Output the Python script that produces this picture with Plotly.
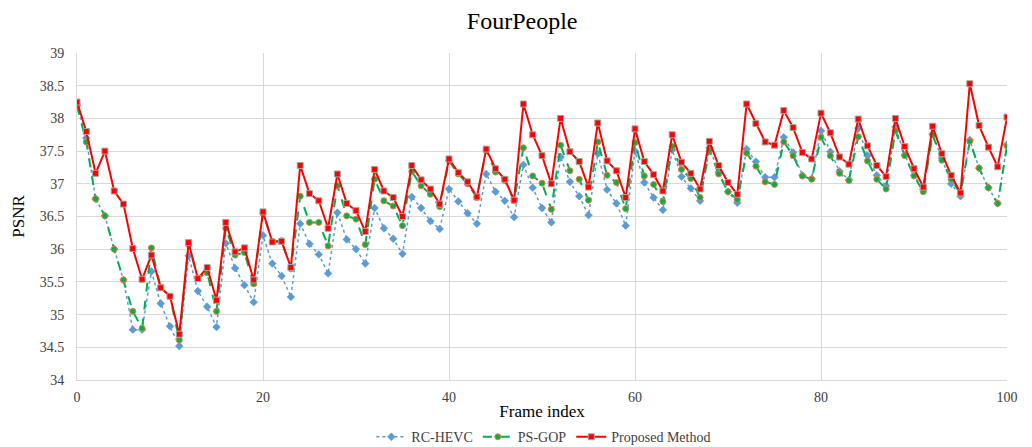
import plotly.graph_objects as go

frames = list(range(101))

rc_hevc = [38.20, 37.70, 36.77, 36.51, 36.00, 35.53, 34.77, 34.77, 35.66, 35.17,
           34.82, 34.52, 35.90, 35.36, 35.12, 34.81, 36.09, 35.71, 35.45, 35.19,
           36.21, 35.78, 35.59, 35.27, 36.39, 36.08, 35.92, 35.63, 36.56, 36.15,
           36.00, 35.78, 36.63, 36.32, 36.16, 35.93, 36.80, 36.63, 36.43, 36.31,
           36.92, 36.73, 36.55, 36.39, 37.15, 36.88, 36.74, 36.49, 37.29, 36.94,
           36.63, 36.41, 37.41, 37.03, 36.81, 36.52, 37.46, 36.91, 36.70, 36.36,
           37.50, 37.02, 36.79, 36.60, 37.52, 37.11, 36.93, 36.74, 37.55, 37.18,
           36.88, 36.71, 37.53, 37.34, 37.10, 37.10, 37.71, 37.48, 37.13, 37.08,
           37.81, 37.49, 37.19, 37.06, 37.85, 37.43, 37.13, 36.97, 37.87, 37.44,
           37.13, 36.91, 37.76, 37.39, 37.00, 36.81, 37.67, 37.24, 36.94, 36.70,
           37.60]

ps_gop = [38.19, 37.64, 36.77, 36.51, 36.00, 35.53, 35.05, 34.79, 36.02, 35.42,
          35.28, 34.61, 36.07, 35.56, 35.64, 35.05, 36.32, 35.91, 35.95, 35.47,
          36.55, 36.12, 36.13, 35.70, 36.81, 36.41, 36.41, 36.05, 36.97, 36.51,
          36.46, 36.07, 37.07, 36.74, 36.66, 36.36, 37.19, 36.97, 36.84, 36.65,
          37.35, 37.15, 37.00, 36.79, 37.52, 37.18, 37.05, 36.74, 37.55, 37.12,
          37.01, 36.61, 37.59, 37.20, 37.07, 36.75, 37.64, 37.13, 37.02, 36.62,
          37.63, 37.12, 36.99, 36.73, 37.57, 37.22, 37.08, 36.79, 37.51, 37.15,
          36.88, 36.76, 37.47, 37.27, 37.03, 36.99, 37.64, 37.43, 37.12, 37.07,
          37.71, 37.43, 37.16, 37.05, 37.72, 37.35, 37.07, 36.92, 37.81, 37.43,
          37.12, 36.88, 37.75, 37.36, 37.07, 36.85, 37.65, 37.24, 36.94, 36.70,
          37.58]

proposed = [38.25, 37.80, 37.16, 37.50, 36.89, 36.69, 36.01, 35.54, 35.91, 35.41,
            35.28, 34.70, 36.10, 35.55, 35.72, 35.22, 36.41, 35.96, 36.02, 35.53,
            36.57, 36.11, 36.12, 35.72, 37.28, 36.85, 36.74, 36.32, 37.15, 36.70,
            36.59, 36.27, 37.22, 36.89, 36.79, 36.50, 37.28, 37.06, 36.92, 36.69,
            37.38, 37.17, 37.03, 36.80, 37.53, 37.23, 37.07, 36.75, 38.22, 37.75,
            37.43, 37.00, 38.00, 37.49, 37.34, 36.95, 37.93, 37.35, 37.20, 36.79,
            37.84, 37.34, 37.14, 36.89, 37.75, 37.33, 37.16, 36.92, 37.65, 37.28,
            37.02, 36.84, 38.22, 37.92, 37.64, 37.59, 38.12, 37.86, 37.48, 37.38,
            38.08, 37.78, 37.41, 37.30, 37.99, 37.58, 37.28, 37.11, 38.00, 37.57,
            37.23, 36.95, 37.88, 37.46, 37.13, 36.86, 38.53, 37.89, 37.56, 37.26,
            38.02]

serif = "Liberation Serif, Times New Roman, serif"

fig = go.Figure()
fig.add_trace(go.Scatter(
    x=frames, y=rc_hevc, name="RC-HEVC", mode="lines+markers",
    line=dict(color="#5B9BD5", width=1.5, dash="dot"),
    marker=dict(symbol="diamond", size=6, color="#5B9BD5",
                line=dict(color="#5B9BD5", width=0.5))))
fig.add_trace(go.Scatter(
    x=frames, y=ps_gop, name="PS-GOP", mode="lines+markers",
    line=dict(color="#00B050", width=2, dash="dash"),
    marker=dict(symbol="circle", size=6, color="#00B050",
                line=dict(color="#ED7D31", width=1))))
fig.add_trace(go.Scatter(
    x=frames, y=proposed, name="Proposed Method", mode="lines+markers",
    line=dict(color="#FF0000", width=2),
    marker=dict(symbol="square", size=6, color="#FF0000",
                line=dict(color="#A5A5A5", width=1))))

fig.update_layout(
    width=1032, height=447,
    margin=dict(l=77, r=25, t=53, b=67, autoexpand=False),
    paper_bgcolor="white", plot_bgcolor="white",
    font=dict(family=serif, color="#404040", size=14),
    title=dict(text="FourPeople", xref="container", x=0.506, xanchor="center",
               yref="container", y=0.955, yanchor="middle",
               font=dict(family=serif, size=24, color="#000000")),
    showlegend=True,
    legend=dict(orientation="h", xref="container", x=0.527, xanchor="center",
                yref="container", y=0.022, yanchor="middle",
                font=dict(family=serif, size=14, color="#404040"),
                itemwidth=30, tracegroupgap=0),
)
fig.update_xaxes(
    range=[0, 100], dtick=20, tick0=0, automargin=False,
    showgrid=True, gridcolor="#D9D9D9", gridwidth=1,
    showline=True, linecolor="#D9D9D9", zeroline=False,
    ticks="", ticklabelstandoff=4,
    tickfont=dict(family=serif, size=14, color="#404040"),
    title=dict(text="Frame index", font=dict(family=serif, size=17, color="#000000"),
               standoff=8),
)
fig.update_yaxes(
    range=[34, 39], dtick=0.5, tick0=34, automargin=False,
    showgrid=True, gridcolor="#D9D9D9", gridwidth=1,
    showline=True, linecolor="#D9D9D9", zeroline=False,
    ticks="", ticklabelstandoff=9,
    tickfont=dict(family=serif, size=14, color="#404040"),
    title=dict(text="PSNR", font=dict(family=serif, size=17, color="#000000"),
               standoff=10),
)

fig.write_html("out.html")
